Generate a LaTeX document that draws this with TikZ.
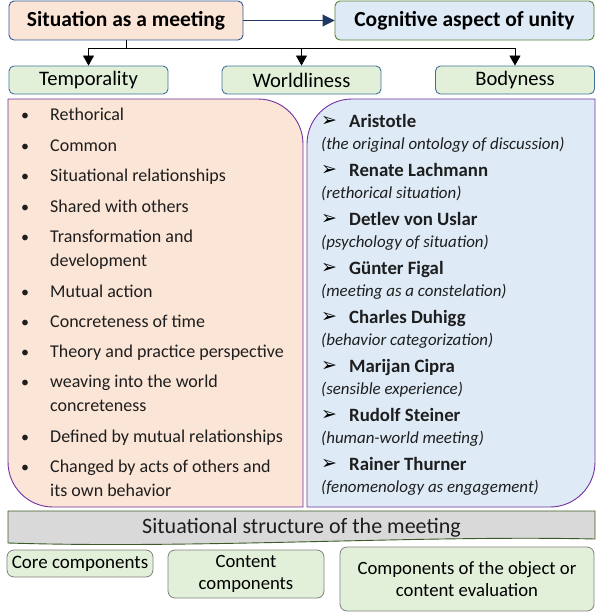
\documentclass[tikz,border=0pt]{standalone}
\usepackage{fontspec}
\setmainfont{Carlito}
\newfontfamily\dvfont{DejaVu Sans}
\usetikzlibrary{arrows.meta}
\definecolor{peach}{HTML}{FBE5D6}
\definecolor{lblue}{HTML}{DEEBF7}
\definecolor{lgreen}{HTML}{E2F0D9}
\definecolor{bband}{HTML}{D9D9D9}
\definecolor{bblue}{HTML}{2F5597}
\definecolor{bgblue}{HTML}{41719C}
\definecolor{bgreen}{HTML}{548235}
\definecolor{dgreen}{HTML}{3B5A28}
\definecolor{purp}{HTML}{7030A0}
\definecolor{navy}{HTML}{1F3864}
\definecolor{txt}{HTML}{1E1E1E}
\begin{document}
\begin{tikzpicture}[x=1pt,y=-1pt,
  titlebox/.style={draw, line width=0.9pt, rounded corners=5pt, inner sep=0pt, font=\fontsize{21.5}{24}\selectfont\bfseries},
  subbox/.style={draw=bgblue, fill=lgreen, line width=0.9pt, rounded corners=5pt, inner sep=0pt, minimum width=159pt, minimum height=28pt, font=\fontsize{20.6}{24}\selectfont},
  botbox/.style={draw=gray, fill=lgreen, line width=0.8pt, rounded corners=7pt, inner sep=0pt, align=center, font=\fontsize{18.7}{22.5}\selectfont},
  itemtxt/.style={anchor=base west, inner sep=0pt, text=txt, font=\fontsize{18}{22}\selectfont},
  bultxt/.style={anchor=base, inner sep=0pt, text=txt, font=\fontsize{16}{22}\selectfont},
  nametxt/.style={anchor=base west, inner sep=0pt, text=txt, font=\fontsize{18.8}{22}\selectfont\bfseries},
  desctxt/.style={anchor=base west, inner sep=0pt, text=txt, font=\fontsize{16.9}{22}\selectfont\itshape},
  arrtxt/.style={anchor=base, inner sep=0pt, text=black, font=\dvfont\fontsize{19}{20}\selectfont},
  conn/.style={draw=black, line width=0.8pt, -{Triangle[length=10pt,width=11pt]}},
]
\useasboundingbox (0,0) rectangle (597,613);

% top boxes
\node[titlebox, draw=bblue, fill=peach, minimum width=234pt, minimum height=39pt] (sit) at (126,20.5) {Situation as a meeting};
\node[titlebox, draw=bgreen, fill=lblue, minimum width=259pt, minimum height=39pt] (cog) at (464.5,20.5) {Cognitive aspect of unity};
\draw[draw=navy, line width=0.9pt, -{Triangle[length=12pt,width=12pt]}] (sit.east) -- (cog.west);

\node[subbox] (temp) at (88.5,80) {Temporality};
\node[subbox] (world) at (301.5,80) {Worldliness};
\node[subbox] (body) at (515,80) {Bodyness};

\draw[conn] (sit.south) -- ++(0,7.5) -| (temp.north);
\draw[conn] (sit.south) -- ++(0,7.5) -| (world.north);
\draw[conn] (sit.south) -- ++(0,7.5) -| (body.north);

% big boxes
\draw[draw=purp, fill=peach, line width=0.9pt] (8,99) -- (258,99) .. controls (282.9,99) and (303,119.1) .. (303,144) -- (303,507) -- (53,507) .. controls (28.1,507) and (8,486.9) .. (8,462) -- cycle;
\draw[draw=purp, fill=lblue, line width=0.9pt] (307,144) .. controls (307,119.1) and (327.1,99) .. (352,99) -- (595,99) -- (595,462) .. controls (595,486.9) and (574.9,507) .. (550,507) -- (307,507) -- cycle;

% left list
\foreach \yy/\tt in {120/Rethorical, 151/Common, 181/Situational relationships, 212/Shared with others, 242/Transformation and, 297/Mutual action, 327/Concreteness of time, 357/Theory and practice perspective, 387/weaving into the world, 442/Defined by mutual relationships, 472/Changed by acts of others and}{
  \node[bultxt] (b\yy) at (25,\yy) {•};
  \node[itemtxt] (t\yy) at (50,\yy) {\tt};
}
\foreach \yy/\tt in {266/development, 411/concreteness, 496/its own behavior}{
  \node[itemtxt] (t\yy) at (50,\yy) {\tt};
}

% right list
\foreach \yy/\nn/\dd in {127/Aristotle/the original ontology of discussion, 176/Renate Lachmann/rethorical situation, 225/Detlev von Uslar/psychology of situation, 274/Günter Figal/meeting as a constelation, 323/Charles Duhigg/behavior categorization, 372/Marijan Cipra/sensible experience, 421/Rudolf Steiner/human-world meeting, 470/Rainer Thurner/fenomenology as engagement}{
  \node[arrtxt] (a\yy) at (329,\yy-1) {➢};
  \node[nametxt] (n\yy) at (349,\yy) {\nn};
  \node[desctxt] (d\yy) at (321,\yy+22) {(\dd)};
}

% banner
\draw[draw=dgreen, fill=bband, line width=0.9pt] (8,511) -- (595,511) -- (595,539) .. controls (420,535) and (200,549) .. (8,543) -- cycle;
\node[inner sep=0pt, anchor=base, text=txt, font=\fontsize{22}{24}\selectfont] (band) at (301.5,533) {Situational structure of the meeting};

% bottom boxes
\node[botbox, minimum width=146pt, minimum height=27pt, font=\fontsize{19}{22.5}\selectfont] (core) at (80,563.5) {Core components};
\node[botbox, minimum width=156pt, minimum height=48pt] (cont) at (246,574) {Content\\components};
\node[botbox, minimum width=254pt, minimum height=64pt] (eval) at (467,579) {Components of the object or\\content evaluation};
\end{tikzpicture}
\end{document}
